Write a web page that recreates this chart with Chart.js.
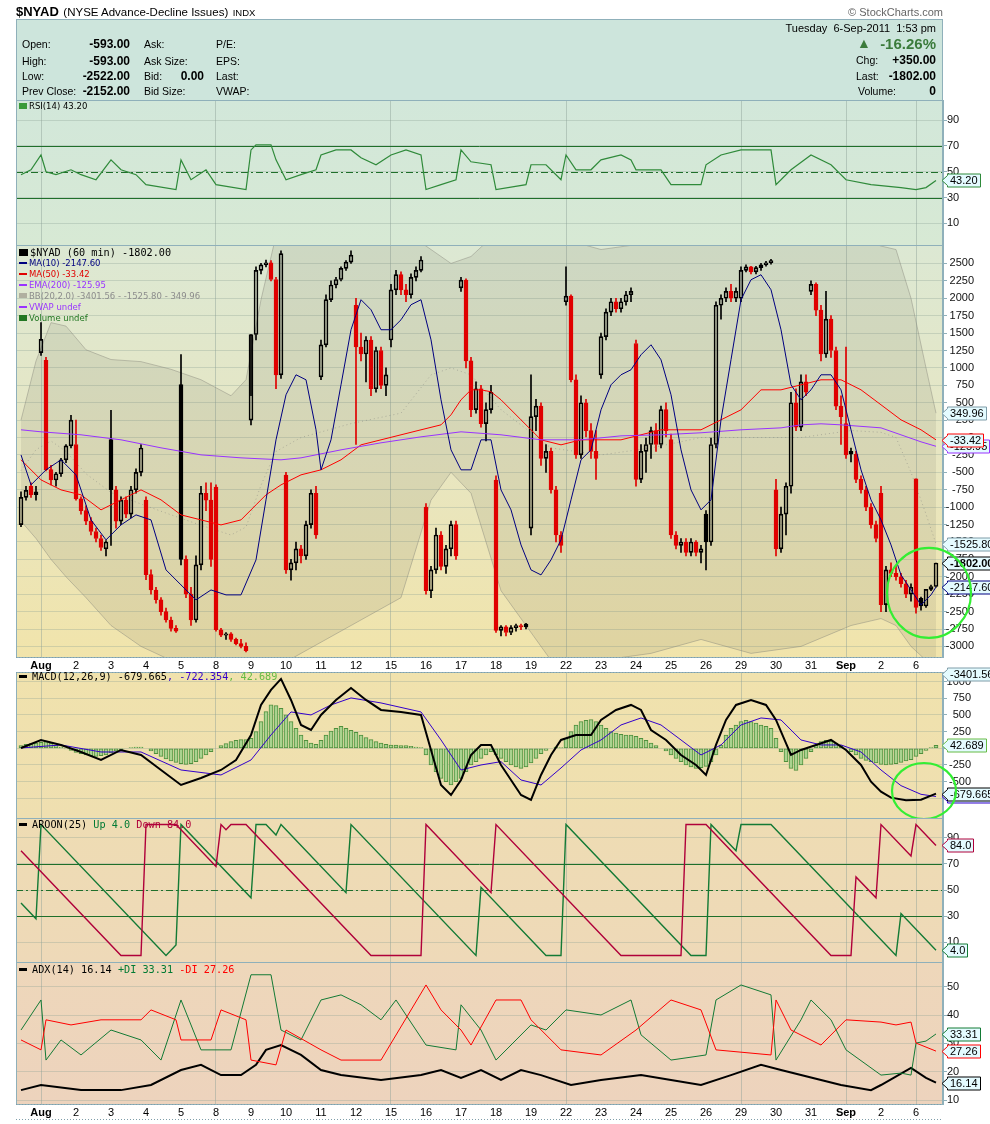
<!DOCTYPE html>
<html><head><meta charset="utf-8"><title>$NYAD</title>
<script src="https://cdn.jsdelivr.net/npm/chart.js@4.4.1/dist/chart.umd.min.js"></script>
<style>
html,body{margin:0;padding:0;background:#fff}
#root{position:relative;width:990px;height:1124px;overflow:hidden;font-family:"Liberation Sans",Arial,sans-serif;color:#000}
canvas{position:absolute;left:0;top:0}
.a{position:absolute;white-space:nowrap;z-index:5;height:14px;line-height:14px}
.hl{font-size:10.5px}
.hv{font-size:12px;font-weight:bold;text-align:right}
.lg{font-family:"DejaVu Sans Mono",monospace;font-size:10.2px;height:12px;line-height:12px}
.sm{font-family:"DejaVu Sans",sans-serif;font-size:8.5px;height:11px;line-height:11px}
.mk{display:inline-block;width:8px;height:2px;vertical-align:middle;margin-right:2px;position:relative;top:-1px}
.mkb{display:inline-block;width:8px;height:3px;background:#000;vertical-align:middle;margin-right:5px;position:relative;top:-1px}
#hdr{position:absolute;left:16px;top:19px;width:927px;height:82px;background:#cde5dc;border:1px solid #8fb0ba;box-sizing:border-box}
</style></head><body><div id="root">
<div class="a" style="left:16px;top:4px"><b style="font-size:13px">$NYAD</b> <span style="font-size:11.5px">(NYSE Advance-Decline Issues)</span> <span style="font-size:9.5px">INDX</span></div>
<div class="a" style="right:47px;top:5px;font-size:11px;color:#666">&copy; StockCharts.com</div>
<div id="hdr"></div>
<div class="a hl" style="left:22px;top:37px">Open:</div>
<div class="a hl" style="left:22px;top:54px">High:</div>
<div class="a hl" style="left:22px;top:69px">Low:</div>
<div class="a hl" style="left:22px;top:84px">Prev Close:</div>
<div class="a hv" style="right:860px;top:37px">-593.00</div>
<div class="a hv" style="right:860px;top:54px">-593.00</div>
<div class="a hv" style="right:860px;top:69px">-2522.00</div>
<div class="a hv" style="right:860px;top:84px">-2152.00</div>
<div class="a hl" style="left:144px;top:37px">Ask:</div>
<div class="a hl" style="left:144px;top:54px">Ask Size:</div>
<div class="a hl" style="left:144px;top:69px">Bid:</div>
<div class="a hl" style="left:144px;top:84px">Bid Size:</div>
<div class="a hv" style="right:786px;top:69px">0.00</div>
<div class="a hl" style="left:216px;top:37px">P/E:</div>
<div class="a hl" style="left:216px;top:54px">EPS:</div>
<div class="a hl" style="left:216px;top:69px">Last:</div>
<div class="a hl" style="left:216px;top:84px">VWAP:</div>
<div class="a" style="right:54px;top:21px;font-size:11px">Tuesday&nbsp; 6-Sep-2011&nbsp; 1:53 pm</div>
<div class="a" style="left:857px;top:36px;font-size:14px;color:#3b7b3b">&#9650;</div>
<div class="a" style="right:54px;top:36px;font-size:15px;font-weight:bold;color:#3b7b3b;height:16px;line-height:16px">-16.26%</div>
<div class="a hl" style="left:856px;top:53px">Chg:</div>
<div class="a hv" style="right:54px;top:53px">+350.00</div>
<div class="a hl" style="left:856px;top:69px">Last:</div>
<div class="a hv" style="right:54px;top:69px">-1802.00</div>
<div class="a hl" style="left:858px;top:84px">Volume:</div>
<div class="a hv" style="right:54px;top:84px">0</div>

<canvas id="cRsi" width="990" height="1124"></canvas>
<canvas id="cMacd" width="990" height="1124"></canvas>
<canvas id="cAroon" width="990" height="1124"></canvas>
<canvas id="cAdx" width="990" height="1124"></canvas>
<canvas id="cPrice" width="990" height="1124"></canvas>

<div class="a sm" style="left:19px;top:101px"><span class="mk" style="background:#3a9a3a;height:6px;top:-1px"></span>RSI(14) 43.20</div>
<div class="a lg" style="left:19px;top:247px"><span class="mk" style="background:#000;height:7px;width:9px"></span>$NYAD (60 min) -1802.00</div>
<div class="a sm" style="left:19px;top:258px;color:#000080"><span class="mk" style="background:#000080"></span>MA(10) -2147.60</div>
<div class="a sm" style="left:19px;top:269px;color:#e00000"><span class="mk" style="background:#e00000"></span>MA(50) -33.42</div>
<div class="a sm" style="left:19px;top:280px;color:#9933ff"><span class="mk" style="background:#9933ff"></span>EMA(200) -125.95</div>
<div class="a sm" style="left:19px;top:291px;color:#8c8c8c"><span class="mk" style="background:#b0b0a0;height:5px"></span>BB(20,2.0) -3401.56 - -1525.80 - 349.96</div>
<div class="a sm" style="left:19px;top:302px;color:#9933ff"><span class="mk" style="background:#9933ff"></span>VWAP undef</div>
<div class="a sm" style="left:19px;top:313px;color:#227722"><span class="mk" style="background:#227722;height:6px"></span>Volume undef</div>
<div class="a lg" style="left:19px;top:671px"><span class="mkb"></span>MACD(12,26,9) -679.665<span style="color:#3300cc">, -722.354</span><span style="color:#66bb44">, 42.689</span></div>
<div class="a lg" style="left:19px;top:819px"><span class="mkb"></span>AROON(25) <span style="color:#007a33">Up 4.0</span> <span style="color:#b0003a">Down 84.0</span></div>
<div class="a lg" style="left:19px;top:964px"><span class="mkb"></span>ADX(14) 16.14 <span style="color:#007a33">+DI 33.31</span> <span style="color:#ff0000">-DI 27.26</span></div>
</div>
<script>
// ---------- categories / time axis ----------
const dayLabels = ['Aug','2','3','4','5','8','9','10','11','12','15','16','17','18','19','22','23','24','25','26','29','30','31','Sep','2','6'];
const monthLabels = ['Aug','Sep'];
const barsPerDay = 7;
const firstBar = -4;            // bar index of the first visible 60-min bar (Jul 29)
const gridDays = [0,5,10,15,20,23,25];

// ---------- $NYAD 60-min candles [open, high, low, close] ----------
const ohlc = [
// Jul 29
[-1250,-780,-1280,-860],[-860,-700,-900,-760],[-700,-650,-860,-820],[-820,-700,-900,-780],
// Aug 1
[1220,1650,1180,1410],[1110,1150,-480,-460],[-460,-400,-680,-610],[-610,-500,-700,-520],[-520,-300,-560,-320],[-320,-100,-360,-120],[-120,320,-150,250],
// Aug 2
[-100,250,-900,-880],[-880,-850,-1100,-1050],[-1050,-980,-1250,-1200],[-1200,-1150,-1400,-1350],[-1350,-1300,-1500,-1450],[-1450,-1400,-1620,-1580],[-1600,-1480,-1700,-1500],
// Aug 3
[-30,390,-1550,-750],[-750,-700,-1300,-1200],[-1200,-850,-1250,-900],[-900,-850,-1150,-1100],[-1100,-700,-1150,-750],[-750,-450,-800,-500],[-500,-100,-550,-150],
// Aug 4
[-900,-850,-2040,-1970],[-1970,-1900,-2250,-2190],[-2190,-2150,-2380,-2330],[-2330,-2300,-2550,-2500],[-2500,-2450,-2650,-2620],[-2620,-2580,-2780,-2740],[-2740,-2700,-2800,-2780],
// Aug 5
[760,1190,-1830,-1750],[-1750,-1700,-2300,-2250],[-2250,-2150,-2700,-2620],[-2620,-1700,-2650,-1830],[-1830,-700,-1900,-800],[-800,-650,-1050,-900],[-900,-650,-1850,-1750],
// Aug 8
[-710,-680,-2780,-2760],[-2760,-2740,-2860,-2840],[-2840,-2800,-2900,-2820],[-2820,-2800,-2930,-2900],[-2900,-2880,-2980,-2960],[-2960,-2900,-3020,-3000],[-3000,-2950,-3080,-3060],
// Aug 9
[250,600,180,1480],[1480,2450,1400,2400],[2400,2500,2350,2480],[2480,2550,2450,2510],[2510,2540,2250,2270],[2270,2300,700,900],[900,2680,850,2640],
// Aug 10
[-540,-500,-1950,-1900],[-1900,-1750,-2050,-1800],[-1800,-1500,-1900,-1600],[-1600,-1550,-1800,-1700],[-1700,-1200,-1750,-1250],[-1250,-750,-1300,-800],[-800,-700,-1450,-1400],
// Aug 11
[870,1400,830,1330],[1330,2050,1300,1980],[1980,2250,1950,2190],[2190,2300,2150,2270],[2270,2450,2250,2430],[2430,2540,2400,2520],[2520,2680,2500,2620],
// Aug 12
[1900,2000,-100,1300],[1300,1500,1100,1200],[1200,1450,800,1400],[1400,1450,600,700],[700,1300,650,1250],[1250,1300,700,750],[750,1000,600,900],
// Aug 15
[1400,2200,1300,2120],[2120,2400,2050,2340],[2340,2380,2050,2120],[2120,2200,1950,2050],[2050,2350,2000,2300],[2300,2450,2250,2400],[2400,2600,2380,2550],
// Aug 16
[-1000,-950,-2250,-2200],[-2200,-1850,-2300,-1900],[-1900,-1300,-1950,-1400],[-1400,-1350,-1900,-1850],[-1850,-1550,-1950,-1600],[-1600,-1200,-1700,-1250],[-1250,-1200,-1750,-1700],
// Aug 17
[2150,2300,2100,2260],[2260,2280,1000,1100],[1100,1150,300,400],[400,800,350,700],[700,750,150,200],[200,500,-50,400],[400,750,350,650],
// Aug 18
[-610,-550,-2800,-2770],[-2770,-2700,-2850,-2720],[-2720,-2700,-2850,-2800],[-2800,-2700,-2830,-2730],[-2730,-2680,-2780,-2700],[-2700,-2680,-2760,-2720],[-2720,-2670,-2750,-2680],
// Aug 19
[-1300,900,-1400,300],[300,550,100,450],[450,500,-400,-300],[-300,-100,-500,-200],[-200,-150,-800,-750],[-750,-700,-1500,-1400],[-1400,-1350,-1650,-1550],
// Aug 22
[1950,2450,1900,2030],[2030,2050,800,830],[830,900,-300,-250],[-250,600,-300,500],[500,550,0,100],[100,200,-300,-200],[-200,100,-600,-300],
// Aug 23
[900,1500,850,1450],[1450,1850,1400,1800],[1800,2000,1750,1950],[1950,2000,1800,1850],[1850,2000,1800,1950],[1950,2100,1900,2050],[2050,2150,1950,2100],
// Aug 24
[1350,1400,-700,-600],[-600,-100,-650,-200],[-200,0,-500,-100],[-100,150,-300,100],[100,200,-200,-100],[-100,450,-150,400],[400,500,0,100],
// Aug 25
[-30,50,-1450,-1400],[-1400,-1350,-1600,-1550],[-1550,-1450,-1650,-1500],[-1500,-1450,-1700,-1650],[-1650,-1450,-1700,-1500],[-1500,-1480,-1700,-1650],[-1650,-1550,-1800,-1600],
// Aug 26
[-1100,-1050,-1900,-1500],[-1500,0,-1550,-100],[-100,1950,-150,1900],[1900,2050,1700,2000],[2000,2150,1950,2100],[2100,2200,1950,2000],[2000,2150,1950,2100],
// Aug 29
[2000,2450,1950,2400],[2400,2480,2380,2450],[2450,2460,2350,2380],[2380,2460,2350,2440],[2440,2500,2400,2480],[2480,2530,2460,2510],[2510,2560,2490,2540],
// Aug 30
[-750,-600,-1700,-1600],[-1600,-1000,-1650,-1100],[-1100,-650,-1400,-700],[-700,650,-800,500],[500,700,100,150],[150,900,100,800],[800,900,600,650],
// Aug 31
[2100,2250,2050,2200],[2200,2220,1750,1830],[1830,1900,1100,1200],[1200,2100,1150,1700],[1700,1750,1150,1250],[1250,1300,400,450],[450,600,-100,300],
// Sep 1
[200,1300,-300,-250],[-200,-150,-350,-240],[-240,-200,-650,-600],[-600,-550,-800,-750],[-750,-700,-1050,-1000],[-1000,-950,-1300,-1250],[-1250,-1200,-1500,-1450],
// Sep 2
[-800,-700,-2500,-2400],[-2400,-1850,-2500,-1900],[-1900,-1800,-2000,-1950],[-1950,-1850,-2050,-2000],[-2000,-1950,-2150,-2100],[-2100,-2050,-2300,-2250],[-2250,-2100,-2350,-2150],
// Sep 6
[-593,-593,-2522,-2440],[-2310,-2290,-2480,-2420],[-2420,-2180,-2440,-2180],[-2180,-2120,-2200,-2140],[-2140,-1802,-2150,-1802]
];

// ---------- overlays [bar index, value] ----------
const ma10 = [[-4,-250],[-2,-680],[1,-464],[4,-320],[7,-536],[10,-1183],[13,-1470],[16,-1255],[19,-1111],[22,-1183],[25,-1901],[28,-2117],[31,-2332],[34,-2189],[37,-2260],[40,-2260],[43,-1757],[45,-895],[47,-33],[49,614],[51,901],[53,829],[55,111],[56,-464],[58,-33],[60,757],[62,1548],[64,1979],[66,1835],[68,1548],[70,1548],[72,1691],[74,1907],[76,1979],[78,1404],[80,542],[82,-177],[84,-464],[86,-464],[88,-33],[90,-33],[92,-752],[94,-1039],[96,-1542],[98,-1901],[100,-1973],[102,-1757],[104,-1470],[106,-895],[108,-320],[110,-177],[112,398],[114,757],[116,901],[118,973],[120,1188],[122,1332],[124,1116],[126,614],[128,-177],[130,-752],[132,-1039],[134,-895],[136,254],[138,1117],[140,1979],[142,2266],[144,2338],[146,2122],[148,1548],[150,757],[152,542],[154,685],[156,901],[158,901],[160,685],[162,111],[164,-464],[166,-895],[168,-1183],[170,-1542],[172,-1973],[174,-2189],[176,-2404],[178,-2260],[179,-2147.60]];
const ma50 = [[-4,-320],[0,-608],[4,-752],[8,-823],[12,-1039],[16,-895],[20,-752],[24,-895],[28,-1111],[32,-1183],[36,-1255],[40,-1183],[43,-967],[45,-823],[48,-680],[52,-536],[56,-464],[60,-320],[64,-105],[68,-33],[72,39],[76,111],[80,182],[82,326],[84,542],[86,685],[88,685],[90,657],[92,542],[96,254],[100,-33],[104,-105],[108,-33],[112,-33],[116,-33],[120,39],[124,111],[128,111],[132,111],[136,254],[140,398],[144,685],[148,685],[152,757],[156,829],[160,829],[164,685],[168,470],[172,254],[176,111],[179,-33.42]];
const ema200 = [[-4,111],[0,82],[8,39],[16,-33],[24,-148],[32,-249],[40,-292],[48,-320],[52,-292],[60,-177],[68,-76],[76,10],[84,82],[92,39],[100,-33],[108,-33],[116,24],[124,39],[132,68],[140,111],[148,139],[152,182],[156,197],[160,182],[168,139],[176,-62],[179,-125.95]];
const bbIdx   = [-4,-1,2,5,9,14,20,26,32,38,41,44,47,52,62,72,78,82,86,92,102,112,122,132,142,152,162,168,171,174,177,179];
const bbUpper = [250,1100,1650,1600,1260,1120,1090,980,830,600,830,1980,2900,3100,3100,3000,2700,2500,2600,3000,2900,2700,2800,2900,3100,3000,2900,2750,2700,2000,1000,349.96];
const bbLower = [-1200,-1450,-1750,-2000,-2300,-2700,-3000,-3200,-3350,-3400,-3400,-3350,-3300,-3100,-2700,-2300,-900,-500,-800,-2200,-3200,-3200,-3100,-2900,-3100,-3000,-2700,-2600,-2700,-3000,-3200,-3401.56];
const bbMid   = [-475,-175,-50,-200,-520,-790,-955,-1110,-1260,-1400,-1285,-685,-200,0,200,350,900,1000,900,400,-150,-250,-150,0,0,0,100,75,0,-500,-1100,-1525.80];
const lastPrice = -1802.00;

// ---------- indicators ----------
const rsi14 = [[-4,47.7],[-2,51.5],[0,63],[1,50],[3,47.7],[6,51.5],[8,47.7],[11,43.8],[14,59.2],[16,51.5],[19,47.7],[21,40],[27,36.2],[28,59.2],[30,43.8],[33,51.5],[35,40],[41,36.2],[42,66.9],[43,70.8],[46,70.8],[47,59.2],[49,43.8],[52,47.7],[55,51.5],[56,63],[59,66.9],[62,66.9],[64,60.8],[67,55.4],[70,63],[73,66.9],[76,63],[77,36.2],[80,40],[83,43.8],[84,66.9],[86,57.7],[90,55.4],[91,36.2],[97,40],[98,55.4],[101,55.4],[104,43.8],[105,63],[107,51.5],[110,51.5],[112,59.2],[116,63],[118,59.2],[119,51.5],[124,51.5],[126,40],[132,40],[133,55.4],[136,63],[140,66.9],[146,66.9],[147,40],[150,51.5],[154,63],[158,55.4],[161,43.8],[166,40],[172,37.7],[175,36.2],[177,37.7],[179,43.20]];
const macdLine = [[-4,5],[0,125],[4,50],[8,-55],[12,-175],[16,-25],[20,-100],[24,-325],[28,-550],[32,-445],[36,-325],[39,-175],[42,200],[44,650],[46,875],[48,1040],[50,725],[52,350],[54,275],[56,500],[59,725],[62,905],[65,725],[68,575],[72,545],[76,500],[78,-25],[80,-550],[82,-700],[84,-475],[86,-100],[88,50],[90,50],[92,-250],[94,-475],[96,-700],[98,-775],[100,-400],[102,-100],[104,125],[107,200],[110,200],[112,425],[115,575],[118,650],[120,575],[122,275],[125,125],[128,-100],[131,-250],[133,-400],[135,50],[137,425],[139,650],[142,725],[145,650],[147,425],[150,-100],[152,-25],[155,50],[158,125],[161,-25],[164,-250],[166,-500],[168,-650],[170,-740],[173,-780],[176,-770],[179,-679.665]];
const macdSignal = [[-4,5],[4,50],[12,-55],[20,-55],[28,-325],[36,-400],[42,-175],[46,200],[50,545],[54,500],[58,650],[62,755],[68,680],[76,545],[80,125],[84,-325],[88,-250],[92,-200],[96,-475],[100,-550],[104,-295],[108,-25],[112,125],[116,350],[120,455],[124,350],[128,125],[132,-100],[136,50],[140,350],[144,455],[148,425],[152,125],[156,50],[160,50],[164,-55],[168,-325],[172,-560],[176,-690],[179,-722.354]];
const macdHist = [
40,60,70,80,
90,100,80,50,20,-10,-30,
-60,-80,-100,-110,-120,-110,-100,
-70,-40,-20,0,10,20,20,
0,-40,-80,-120,-160,-190,-210,
-230,-240,-230,-200,-150,-100,-50,
0,40,70,100,120,130,130,
150,250,400,550,650,640,600,
500,400,300,200,120,80,60,
120,200,260,300,330,300,270,
240,200,160,130,100,80,60,
50,50,40,40,30,20,10,
-100,-250,-350,-450,-500,-550,-500,
-450,-350,-250,-200,-150,-100,-50,
-100,-150,-200,-250,-280,-300,-280,
-220,-150,-80,-30,0,20,10,
150,250,350,400,420,430,400,
350,300,250,230,210,200,200,
180,150,120,80,40,0,-40,
-100,-150,-200,-250,-280,-300,-290,
-270,-200,-100,50,200,300,350,
400,420,400,380,350,330,300,
150,-50,-200,-300,-330,-250,-150,
-50,50,100,120,110,80,40,
0,-50,-100,-150,-180,-200,-220,
-240,-250,-240,-230,-210,-190,-170,
-120,-80,-30,10,42.689];
const aroonUp = [[-4,40],[-1,28],[0,100],[25,0],[27,8],[28,100],[42,44],[43,100],[45,100],[46,96],[47,92],[48,100],[61,48],[62,100],[87,0],[88,52],[101,0],[104,0],[105,100],[130,0],[133,0],[134,100],[139,80],[140,100],[146,100],[171,0],[172,32],[179,4.0]];
const aroonDown = [[-4,80],[16,0],[20,0],[21,100],[27,100],[35,68],[36,100],[37,96],[38,100],[41,100],[66,0],[76,0],[77,100],[90,48],[91,100],[116,0],[128,0],[129,100],[133,100],[158,0],[162,0],[163,60],[167,44],[168,100],[174,76],[175,100],[179,84.0]];
const adx14 = [[-4,13.5],[0,15.3],[8,13.5],[16,13.5],[22,15.3],[28,20.6],[32,22.4],[36,18.8],[40,18.8],[43,22.4],[45,27.7],[48,29.4],[52,25.9],[56,20.6],[60,18.8],[68,17.1],[76,18.8],[80,20.6],[84,17.8],[88,20.6],[92,17.1],[96,20.6],[100,18.8],[106,15.3],[112,17.1],[120,18.8],[126,17.1],[132,15.3],[138,18.8],[144,22.4],[148,20.6],[152,18.8],[160,15.3],[166,13.5],[168,15.3],[174,21.3],[177,17.8],[179,16.14]];
const plusDI = [[-4,34.7],[0,45.3],[1,24.1],[4,31.2],[8,25.9],[14,34.7],[20,31.2],[24,24.1],[28,45.3],[32,27.7],[38,27.7],[42,54.2],[46,54.2],[48,34.7],[52,31.2],[56,45.3],[60,47.1],[64,43.6],[68,38.3],[71,45.3],[77,29.4],[83,27.7],[84,43.6],[88,34.7],[91,24.1],[98,36.5],[101,34.7],[105,41.8],[112,40],[118,45.3],[120,33],[126,24.1],[133,25.9],[135,45.3],[140,50.6],[146,47.1],[147,24.1],[152,38.3],[154,45.3],[158,38.3],[161,27.7],[168,18.8],[172,19.5],[174,18.8],[175,30.1],[177,30.8],[179,33.31]];
const minusDI = [[-4,31.2],[0,27.7],[1,38.3],[6,36.5],[12,38.3],[20,38.3],[22,41.8],[27,38.3],[28,31.2],[34,31.2],[36,41.8],[41,38.3],[42,24.1],[47,22.4],[49,34.7],[56,27.7],[60,24.1],[68,24.1],[77,50.6],[80,41.8],[84,34.7],[86,29.4],[91,45.3],[96,45.3],[98,38.3],[104,27.7],[112,25.9],[119,34.7],[126,45.3],[132,41.8],[135,27.7],[146,25.9],[147,45.3],[150,34.7],[156,29.4],[161,38.3],[168,37.5],[171,36.5],[174,37.5],[175,30.1],[179,27.26]];

// ---------- axis ticks ----------
const priceTicks = [2500,2250,2000,1750,1500,1250,1000,750,500,250,0,-250,-500,-750,-1000,-1250,-1500,-1750,-2000,-2250,-2500,-2750,-3000];
const rsiTicks = [10,30,50,70,90];
const macdTicks = [1000,750,500,250,0,-250,-500,-750];
const aroonTicks = [10,30,50,70,90];
const adxTicks = [10,20,30,40,50];
const rsiLevels = [70,30], rsiMid = [50];
const aroonLevels = [70,30], aroonMid = [50];

// ---------- helpers ----------
const F = '"Liberation Sans", Arial, sans-serif';
const pts = a => a.map(p => ({x:p[0], y:p[1]}));
const last = a => a[a.length-1][1];
const GRID = 'rgba(140,160,150,0.33)';
const AXIS = '#8fb0ba';
const PLOT_RIGHT = 943;

function xScale(labels){
  return {type:'linear', min:-5, max:180.4, offset:false,
    afterBuildTicks: s => { s.ticks = dayLabels.map((l,d) => ({value:d*barsPerDay})); },
    ticks:{display:labels, autoSkip:false, maxRotation:0, minRotation:0, padding:2, color:'#000',
      font: c => ({family:F, size:11, weight: monthLabels.includes(dayLabels[c.index]) ? 'bold' : 'normal'}),
      callback:(v,i) => dayLabels[i]},
    grid:{drawTicks:false, offset:false, lineWidth:1,
      color: c => (c.tick && gridDays.includes(Math.round(c.tick.value/barsPerDay))) ? 'rgba(140,160,150,0.45)' : 'rgba(0,0,0,0)'},
    border:{display:false},
    afterFit: s => { s.height = labels ? 15 : 0; }
  };
}
// labelRight: x pixel where right-aligned tick labels end (null = left aligned next to axis)
function yScale(min,max,ticks,labelRight){
  const w = labelRight ? labelRight - PLOT_RIGHT : 990 - PLOT_RIGHT;
  return {type:'linear', position:'right', min, max,
    afterBuildTicks: s => { s.ticks = ticks.map(v => ({value:v})); },
    ticks:{autoSkip:false, padding:0, crossAlign: labelRight ? 'far' : 'near', color:'#111', font:{family:F, size:11},
      callback: v => String(v)},
    grid:{color:GRID, tickLength:4, tickColor:AXIS, drawTicks:true},
    border:{color:AXIS},
    afterFit: s => { s.width = w; }
  };
}
function drawBox(ctx, y, xr, b){
  y = Math.round(y) + 0.5;
  ctx.font = (b.bold ? 'bold ' : '') + '11px ' + F;
  const tw = ctx.measureText(b.t).width;
  const x0 = xr + 4.5, w = Math.round(tw) + 5, h = 13;
  ctx.beginPath();
  ctx.moveTo(xr - 1, y); ctx.lineTo(x0, y - 5); ctx.lineTo(x0, y - h/2); ctx.lineTo(x0 + w, y - h/2);
  ctx.lineTo(x0 + w, y + h/2); ctx.lineTo(x0, y + h/2); ctx.lineTo(x0, y + 5); ctx.closePath();
  ctx.fillStyle = '#e4fbff'; ctx.fill();
  ctx.strokeStyle = b.c; ctx.lineWidth = 1; ctx.stroke();
  ctx.fillStyle = '#000'; ctx.textAlign = 'left'; ctx.textBaseline = 'middle';
  ctx.fillText(b.t, x0 + 2.5, y + 0.5);
}
const panelPlugin = {
  id:'panel',
  beforeDraw(chart, args, o){
    const {ctx, chartArea:a} = chart;
    const g = ctx.createLinearGradient(0, a.top, 0, a.bottom);
    o.bg.forEach((c,i) => g.addColorStop(i/(o.bg.length-1), c));
    ctx.save(); ctx.fillStyle = g; ctx.fillRect(a.left, a.top, a.right-a.left, a.bottom-a.top); ctx.restore();
  },
  beforeDatasetsDraw(chart, args, o){
    if (!o.levels) return;
    const {ctx, chartArea:a} = chart, ys = chart.scales.y;
    ctx.save(); ctx.strokeStyle = '#1f6f2a'; ctx.lineWidth = 1;
    o.levels.forEach(v => { const y = Math.round(ys.getPixelForValue(v))+0.5; ctx.setLineDash([]); ctx.beginPath(); ctx.moveTo(a.left,y); ctx.lineTo(a.right,y); ctx.stroke(); });
    o.mids.forEach(v => { const y = Math.round(ys.getPixelForValue(v))+0.5; ctx.setLineDash([7,3,2,3]); ctx.beginPath(); ctx.moveTo(a.left,y); ctx.lineTo(a.right,y); ctx.stroke(); });
    ctx.restore();
  },
  afterDraw(chart, args, o){
    const {ctx, chartArea:a} = chart, ys = chart.scales.y, xs = chart.scales.x;
    ctx.save();
    ctx.strokeStyle = AXIS; ctx.lineWidth = 1; ctx.setLineDash([]);
    ctx.strokeRect(a.left+0.5, a.top+0.5, a.right-a.left-1, a.bottom-a.top);
    if (o.strip){
      ctx.strokeStyle = '#7f9eaa'; ctx.setLineDash([1,2]);
      [a.bottom+0.5, a.bottom+15.5].forEach(y => { ctx.beginPath(); ctx.moveTo(a.left, y); ctx.lineTo(a.right, y); ctx.stroke(); });
      ctx.setLineDash([]);
    }
    (o.boxes||[]).forEach(b => drawBox(ctx, ys.getPixelForValue(b.v), a.right, b));
    (o.circles||[]).forEach(c => {
      ctx.beginPath(); ctx.ellipse(xs.getPixelForValue(c.x), ys.getPixelForValue(c.v), c.rx, c.ry, 0, 0, Math.PI*2);
      ctx.strokeStyle = '#33ee33'; ctx.lineWidth = 2.2; ctx.stroke();
    });
    ctx.restore();
  }
};
Chart.register(panelPlugin);
Chart.defaults.animation = false;
Chart.defaults.font.family = F;

function make(id, top, bottom, labels, datasets, yOpts, panel, labelRight){
  return new Chart(document.getElementById(id), {
    type:'line',
    data:{datasets},
    options:{responsive:false, animation:false, devicePixelRatio:1,
      layout:{autoPadding:false, padding:{top, left:16, right: labelRight ? 990 - labelRight : 0, bottom: 1124 - bottom - (labels ? 15 : 0)}},
      plugins:{legend:{display:false}, tooltip:{enabled:false}, panel},
      elements:{point:{radius:0}, line:{tension:0}},
      scales:{x:xScale(labels), y:yOpts}
    }
  });
}
const line = (data, color, width, extra) => Object.assign({type:'line', data:pts(data), borderColor:color, borderWidth:width, pointRadius:0, fill:false}, extra||{});

// ---------- RSI ----------
make('cRsi', 100, 245, false,
  [line(rsi14, '#2f8a3a', 1.2)],
  yScale(-6.8, 105.6, rsiTicks, null),
  {bg:['#d2e7da','#d7e9d4'], levels:rsiLevels, mids:rsiMid,
   boxes:[{v:last(rsi14), t:last(rsi14).toFixed(2), c:'#2f8a3a'}]}, null);

// ---------- Price ----------
const idx = ohlc.map((_,k) => k + firstBar);
const prevClose = k => k > 0 ? ohlc[k-1][3] : ohlc[k][0];
const cColor = k => ohlc[k][3] < prevClose(k) ? '#e00000' : '#000000';
const bbU = bbIdx.map((x,i) => [x, bbUpper[i]]);
const bbL = bbIdx.map((x,i) => [x, bbLower[i]]);
const bbM = bbIdx.map((x,i) => [x, bbMid[i]]);
const barBase = {type:'bar', grouped:false, borderSkipped:false, order:3};
make('cPrice', 245, 657, true, [
  line(bbU, 'rgba(135,135,125,0.45)', 1, {fill:'+1', backgroundColor:'rgba(110,110,95,0.13)', order:9}),
  line(bbL, 'rgba(135,135,125,0.45)', 1, {order:9}),
  line(bbM, 'rgba(120,120,120,0.45)', 1, {borderDash:[1,3], order:8}),
  Object.assign({}, barBase, {data: ohlc.map((b,k) => ({x:idx[k], y:[Math.max(b[0],b[3]), b[1]]})), barThickness:1, backgroundColor: c => cColor(c.dataIndex), borderWidth:0}),
  Object.assign({}, barBase, {data: ohlc.map((b,k) => ({x:idx[k], y:[b[2], Math.min(b[0],b[3])]})), barThickness:1, backgroundColor: c => cColor(c.dataIndex), borderWidth:0}),
  Object.assign({}, barBase, {data: ohlc.map((b,k) => ({x:idx[k], y:[b[0], b[3]]})), barThickness:4, borderWidth:1,
    borderColor: c => cColor(c.dataIndex),
    backgroundColor: c => ohlc[c.dataIndex][3] < ohlc[c.dataIndex][0] ? cColor(c.dataIndex) : 'rgba(0,0,0,0)'}),
  line(ema200, '#9933ff', 1, {order:2}),
  line(ma50, '#ff0000', 1, {order:2}),
  line(ma10, '#000080', 1, {order:1})
], yScale(-3152, 2765, priceTicks, 974),
{bg:['#dce8d3','#e7e6c2','#f1e4ab'], strip:true,
 boxes:[
  {v:bbUpper[bbUpper.length-1], t:bbUpper[bbUpper.length-1].toFixed(2), c:'#7f9ca8'},
  {v:last(ema200), t:last(ema200).toFixed(2), c:'#9933ff'},
  {v:last(ma50), t:last(ma50).toFixed(2), c:'#ff0000'},
  {v:bbMid[bbMid.length-1], t:bbMid[bbMid.length-1].toFixed(2), c:'#7f9ca8'},
  {v:lastPrice, t:lastPrice.toFixed(2), c:'#000', bold:true},
  {v:last(ma10), t:last(ma10).toFixed(2), c:'#000080'},
  {v:bbLower[bbLower.length-1], t:bbLower[bbLower.length-1].toFixed(2), c:'#7f9ca8'}
 ],
 circles:[{x:177.6, v:-2232, rx:42, ry:45}]}, 974);

// ---------- MACD ----------
make('cMacd', 672, 818, false, [
  {type:'bar', grouped:false, data: macdHist.map((v,k) => ({x:k+firstBar, y:v})), barThickness:4, borderWidth:1,
   backgroundColor:'#a9d38f', borderColor:'#4f8f3c', borderSkipped:false, order:3},
  line(macdSignal, '#3300cc', 1, {order:2}),
  line(macdLine, '#000', 2, {order:1})
], yScale(-1045, 1144, macdTicks, 971),
{bg:['#f0e2ad','#efdfb0'],
 boxes:[
  {v:macdHist[macdHist.length-1], t:macdHist[macdHist.length-1].toFixed(3), c:'#66bb44'},
  {v:last(macdSignal), t:last(macdSignal).toFixed(3), c:'#3300cc'},
  {v:last(macdLine), t:last(macdLine).toFixed(3), c:'#000'}
 ],
 circles:[{x:176.6, v:-640, rx:32, ry:28}]}, 971);

// ---------- AROON ----------
make('cAroon', 818, 962, false, [
  line(aroonDown, '#b0003a', 1.4),
  line(aroonUp, '#137a35', 1.4)
], yScale(-5, 105, aroonTicks, null),
{bg:['#eedcb3','#eed9b8'], levels:aroonLevels, mids:aroonMid,
 boxes:[{v:last(aroonDown), t:last(aroonDown).toFixed(1), c:'#b0003a'},{v:last(aroonUp), t:last(aroonUp).toFixed(1), c:'#137a35'}]}, null);

// ---------- ADX ----------
make('cAdx', 962, 1104, true, [
  line(minusDI, '#ff0000', 1),
  line(plusDI, '#137a35', 1),
  line(adx14, '#000', 2)
], yScale(8.6, 58.7, adxTicks, null),
{bg:['#eed7ba','#edd3bd'], strip:true,
 boxes:[{v:last(minusDI), t:last(minusDI).toFixed(2), c:'#ff0000'},{v:last(plusDI), t:last(plusDI).toFixed(2), c:'#137a35'},{v:last(adx14), t:last(adx14).toFixed(2), c:'#000'}]}, null);
</script>
</body></html>
